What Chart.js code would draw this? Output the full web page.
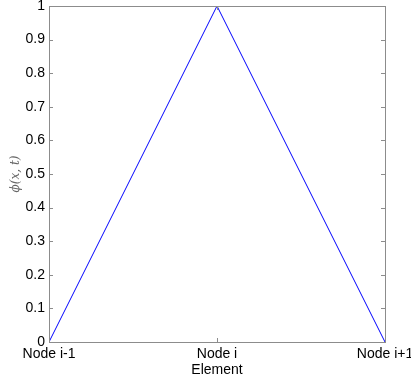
<!DOCTYPE html>
<html lang="en">
<head>
  <meta charset="UTF-8" />
  <title>Shape function</title>
  <script src="https://cdn.jsdelivr.net/npm/chart.js"></script>
  <style>
    html, body { margin: 0; padding: 0; background: #fff; }
    #wrap { width: 411px; height: 379px; }
  </style>
</head>
<body>
  <div id="wrap"><canvas id="chart" width="411" height="379"></canvas></div>
  <script>
    // node positions and hat function values
    const nodePos = [0, 1, 2];
    const nodeLabels = ['Node i-1', 'Node i', 'Node i+1'];
    const phiValues = [0, 1, 0];
    const yTicks = [0, 0.1, 0.2, 0.3, 0.4, 0.5, 0.6, 0.7, 0.8, 0.9, 1];

    const boxColor = '#8c8c8c';

    // matlab style box with inward ticks
    const boxPlugin = {
      id: 'box',
      afterDraw(chart) {
        const { ctx, chartArea: a, scales } = chart;
        ctx.save();
        ctx.strokeStyle = boxColor;
        ctx.lineWidth = 1;
        ctx.strokeRect(Math.round(a.left) + 0.5, Math.round(a.top) + 0.5,
          Math.round(a.right - a.left), Math.round(a.bottom - a.top));
        ctx.beginPath();
        yTicks.forEach(v => {
          const y = Math.round(scales.y.getPixelForValue(v)) + 0.5;
          ctx.moveTo(a.left, y); ctx.lineTo(a.left + 4, y);
          ctx.moveTo(a.right, y); ctx.lineTo(a.right - 4, y);
        });
        nodePos.forEach(v => {
          const x = Math.round(scales.x.getPixelForValue(v)) + 0.5;
          ctx.moveTo(x, a.bottom); ctx.lineTo(x, a.bottom - 4);
          ctx.moveTo(x, a.top); ctx.lineTo(x, a.top + 4);
        });
        ctx.stroke();
        ctx.restore();
      }
    };

    new Chart(document.getElementById('chart'), {
      type: 'line',
      data: {
        datasets: [{
          data: nodePos.map((x, i) => ({ x, y: phiValues[i] })),
          borderColor: '#0000ff',
          borderWidth: 1,
          pointRadius: 0,
          tension: 0,
          fill: false
        }]
      },
      options: {
        responsive: false,
        animation: false,
        layout: { padding: { top: 6, right: 26, left: 0, bottom: 0 } },
        plugins: { legend: { display: false }, tooltip: { enabled: false } },
        scales: {
          x: {
            type: 'linear',
            min: 0,
            max: 2,
            afterBuildTicks: s => { s.ticks = nodePos.map(v => ({ value: v })); },
            afterFit: s => { s.height = 37; s.paddingRight = 0; s.paddingLeft = 0; },
            grid: { display: false, drawTicks: false },
            border: { display: false },
            ticks: {
              color: '#000',
              padding: 4,
              maxRotation: 0,
              autoSkip: false,
              font: { family: 'Liberation Sans, Arial', size: 14 },
              callback: v => nodeLabels[nodePos.indexOf(v)]
            },
            title: {
              display: true,
              text: 'Element',
              color: '#000',
              padding: { top: -5, bottom: 0 },
              font: { family: 'Liberation Sans, Arial', size: 14 }
            }
          },
          y: {
            min: 0,
            max: 1,
            afterBuildTicks: s => { s.ticks = yTicks.map(v => ({ value: v })); },
            afterFit: s => { s.width = 49; s.paddingTop = 0; s.paddingBottom = 0; },
            grid: { display: false, drawTicks: false },
            border: { display: false },
            ticks: {
              color: '#000',
              padding: 4,
              font: { family: 'Liberation Sans, Arial', size: 14 },
              callback: v => String(v)
            },
            title: {
              display: true,
              text: 'ϕ(x, t)',
              color: '#666',
              padding: { top: 9, bottom: 0 },
              font: { family: 'DejaVu Serif', size: 12, style: 'italic' }
            }
          }
        }
      },
      plugins: [boxPlugin]
    });
  </script>
</body>
</html>
